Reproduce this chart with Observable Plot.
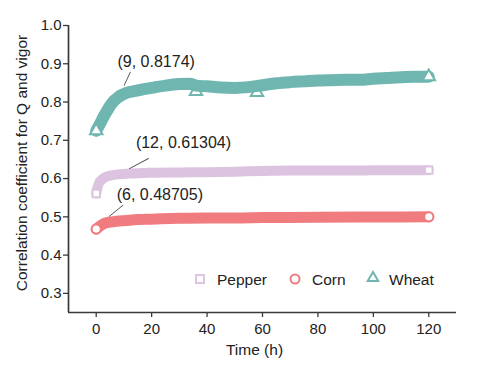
<!DOCTYPE html>
<html>
<head>
<meta charset="utf-8">
<script src="https://cdn.jsdelivr.net/npm/d3@7"></script>
<script src="https://cdn.jsdelivr.net/npm/@observablehq/plot@0.6"></script>
<style>
  html, body { margin: 0; padding: 0; background: #fff; }
  #chart { position: relative; width: 481px; height: 370px; }
</style>
</head>
<body>
<div id="chart"></div>
<script>
// ---- data ----
const seriesNames = ["Pepper", "Corn", "Wheat"];
const seriesColors = ["#dcc4e0", "#f07c80", "#6fb6b1"];
const seriesSymbols = ["square", "circle", "triangle"];

const wheatT = [0, 1, 2, 3, 4, 5, 6, 7, 8, 9, 10, 12, 14, 16, 20, 25, 30, 34, 36, 40, 45, 50, 55, 60, 65, 70, 75, 80, 85, 90, 95, 100, 105, 110, 115, 120];
const wheatV = [0.725, 0.738, 0.752, 0.766, 0.778, 0.790, 0.800, 0.807, 0.813, 0.8174, 0.821, 0.826, 0.829, 0.832, 0.837, 0.843, 0.847, 0.848, 0.843, 0.841, 0.838, 0.837, 0.839, 0.844, 0.849, 0.852, 0.854, 0.856, 0.857, 0.858, 0.858, 0.861, 0.863, 0.865, 0.866, 0.866];

const pepperT = [0, 0.5, 1, 2, 3, 4, 6, 8, 10, 12, 15, 20, 30, 40, 50, 60, 70, 80, 90, 100, 110, 120];
const pepperV = [0.561, 0.578, 0.588, 0.597, 0.603, 0.606, 0.609, 0.611, 0.612, 0.61304, 0.614, 0.615, 0.616, 0.6165, 0.618, 0.620, 0.621, 0.621, 0.621, 0.6215, 0.622, 0.622];

const cornT = [0, 1, 2, 3, 4, 6, 8, 10, 15, 20, 30, 40, 50, 60, 80, 100, 120];
const cornV = [0.468, 0.474, 0.479, 0.483, 0.485, 0.48705, 0.489, 0.490, 0.493, 0.494, 0.496, 0.497, 0.497, 0.498, 0.499, 0.4995, 0.500];

// isolated markers that stick out of the wheat band
const wheatDipT = [36, 58];
const wheatDipV = [0.828, 0.825];

// annotated points
const annT = [9, 12, 6];
const annV = [0.8174, 0.61304, 0.48705];
const annLabels = ["(9, 0.8174)", "(12, 0.61304)", "(6, 0.48705)"];

const xDomain = [-10, 130];
const yDomain = [0.25, 1.0];
const xTicks = [0, 20, 40, 60, 80, 100, 120];
const yTicks = [0.3, 0.4, 0.5, 0.6, 0.7, 0.8, 0.9, 1.0];
const xLabel = "Time (h)";
const yLabel = "Correlation coefficient for Q and vigor";

// ---- tables ----
const toRows = (T, V) => T.map((t, i) => ({t, v: V[i]}));
const pepper = toRows(pepperT, pepperV);
const corn = toRows(cornT, cornV);
const wheat = toRows(wheatT, wheatV);
const wheatDips = toRows(wheatDipT, wheatDipV);
const ends = (rows) => [rows[0], rows[rows.length - 1]];
const ann = annT.map((t, i) => ({t, v: annV[i], label: annLabels[i]}));

// styling for annotations (pixel offsets)
const annStyle = [
  {dx: 35, dy: -33, lx: 3, ly: -10, len: 14.5, rot: 25},
  {dx: 54, dy: -31, lx: 0, ly: -5, len: 21.5, rot: 62},
  {dx: 47, dy: -27, lx: -3.5, ly: -5.5, len: 17.5, rot: 51}
];

const font = "'Liberation Sans', Arial, Helvetica, sans-serif";
const axisColor = "#3a3a3a";
const textColor = "#222";

const W = 481, H = 370;
const mL = 68, mR = 25, mT = 25, mB = 58;

const bandMark = (rows, k, width) =>
  Plot.line(rows, {x: "t", y: "v", stroke: seriesColors[k], strokeWidth: width,
    strokeLinecap: "round", strokeLinejoin: "round", curve: "monotone-x"});
const endDots = (rows, k, r) =>
  Plot.dot(ends(rows), {x: "t", y: "v", symbol: seriesSymbols[k], r, fill: "white",
    stroke: seriesColors[k], strokeWidth: 2});

const leaderShape = {draw(ctx, l) { ctx.moveTo(0, 0); ctx.lineTo(0, -l); }};

const plot = Plot.plot({
  width: W, height: H,
  marginLeft: mL, marginRight: mR, marginTop: mT, marginBottom: mB,
  style: {fontFamily: font, fontSize: "15px", color: textColor, background: "white"},
  x: {domain: xDomain, label: null},
  y: {domain: yDomain, label: null},
  marks: [
    // wheat dips drawn first so the band covers their top
    Plot.dot(wheatDips, {x: "t", y: "v", symbol: "triangle", r: 4.6, fill: "white",
      stroke: seriesColors[2], strokeWidth: 2}),
    bandMark(wheat, 2, 12),
    bandMark(pepper, 0, 10),
    bandMark(corn, 1, 11),
    endDots(wheat, 2, 4.6),
    endDots(pepper, 0, 4.2),
    endDots(corn, 1, 4.6),
    // annotations
    ...ann.map((d, i) => Plot.text([d], {x: "t", y: "v", text: "label",
      dx: annStyle[i].dx, dy: annStyle[i].dy, fontSize: 16, fill: textColor, fontFamily: font})),
    ...ann.map((d, i) => Plot.vector([d], {x: "t", y: "v", anchor: "start",
      length: annStyle[i].len, rotate: annStyle[i].rot, r: 0, shape: leaderShape,
      dx: annStyle[i].lx, dy: annStyle[i].ly, stroke: "#555", strokeWidth: 0.9})),
    // axes
    Plot.axisX({ticks: xTicks, tickSize: 5, tickPadding: 6, fontSize: 15, stroke: axisColor,
      strokeWidth: 1.3, fill: textColor, label: null}),
    Plot.axisY({ticks: yTicks, tickFormat: ".1f", tickSize: 5, tickPadding: 2, fontSize: 15,
      stroke: axisColor, strokeWidth: 1.3, fill: textColor, label: null}),
    Plot.ruleX([xDomain[0]], {stroke: axisColor, strokeWidth: 1.7}),
    Plot.ruleY([yDomain[0]], {stroke: axisColor, strokeWidth: 1.7}),
    // axis titles
    Plot.text([xLabel], {frameAnchor: "bottom", textAnchor: "middle", lineAnchor: "middle",
      dx: -8, dy: 38, fontSize: 15.5, fill: textColor, fontFamily: font}),
    Plot.text([yLabel], {frameAnchor: "left", textAnchor: "middle", lineAnchor: "middle",
      rotate: -90, dx: -46, dy: -6, fontSize: 15.5, fill: textColor, fontFamily: font})
  ]
});

// ---- legend inside the frame (bottom right) ----
const svg = d3.select(plot);
const legendItems = [
  {x: 200, tx: 217},
  {x: 295, tx: 312},
  {x: 373, tx: 389}
];
const legendY = 279;
const symbolTypes = [d3.symbolSquare, d3.symbolCircle, d3.symbolTriangle];
const symbolSizes = [64, 64, 48];
const lg = svg.append("g").attr("font-family", font).attr("font-size", 15.5)
  .attr("text-anchor", "start");
seriesNames.forEach((name, k) => {
  const it = legendItems[k];
  lg.append("path")
    .attr("d", d3.symbol(symbolTypes[k], symbolSizes[k])())
    .attr("transform", `translate(${it.x},${legendY - (k === 2 ? 1 : 0)})`)
    .attr("fill", "white").attr("stroke", seriesColors[k]).attr("stroke-width", 2);
  lg.append("text").attr("x", it.tx).attr("y", legendY).attr("dy", "0.36em")
    .attr("text-anchor", "start").attr("fill", textColor).text(name);
});

document.getElementById("chart").appendChild(plot);
</script>
</body>
</html>
